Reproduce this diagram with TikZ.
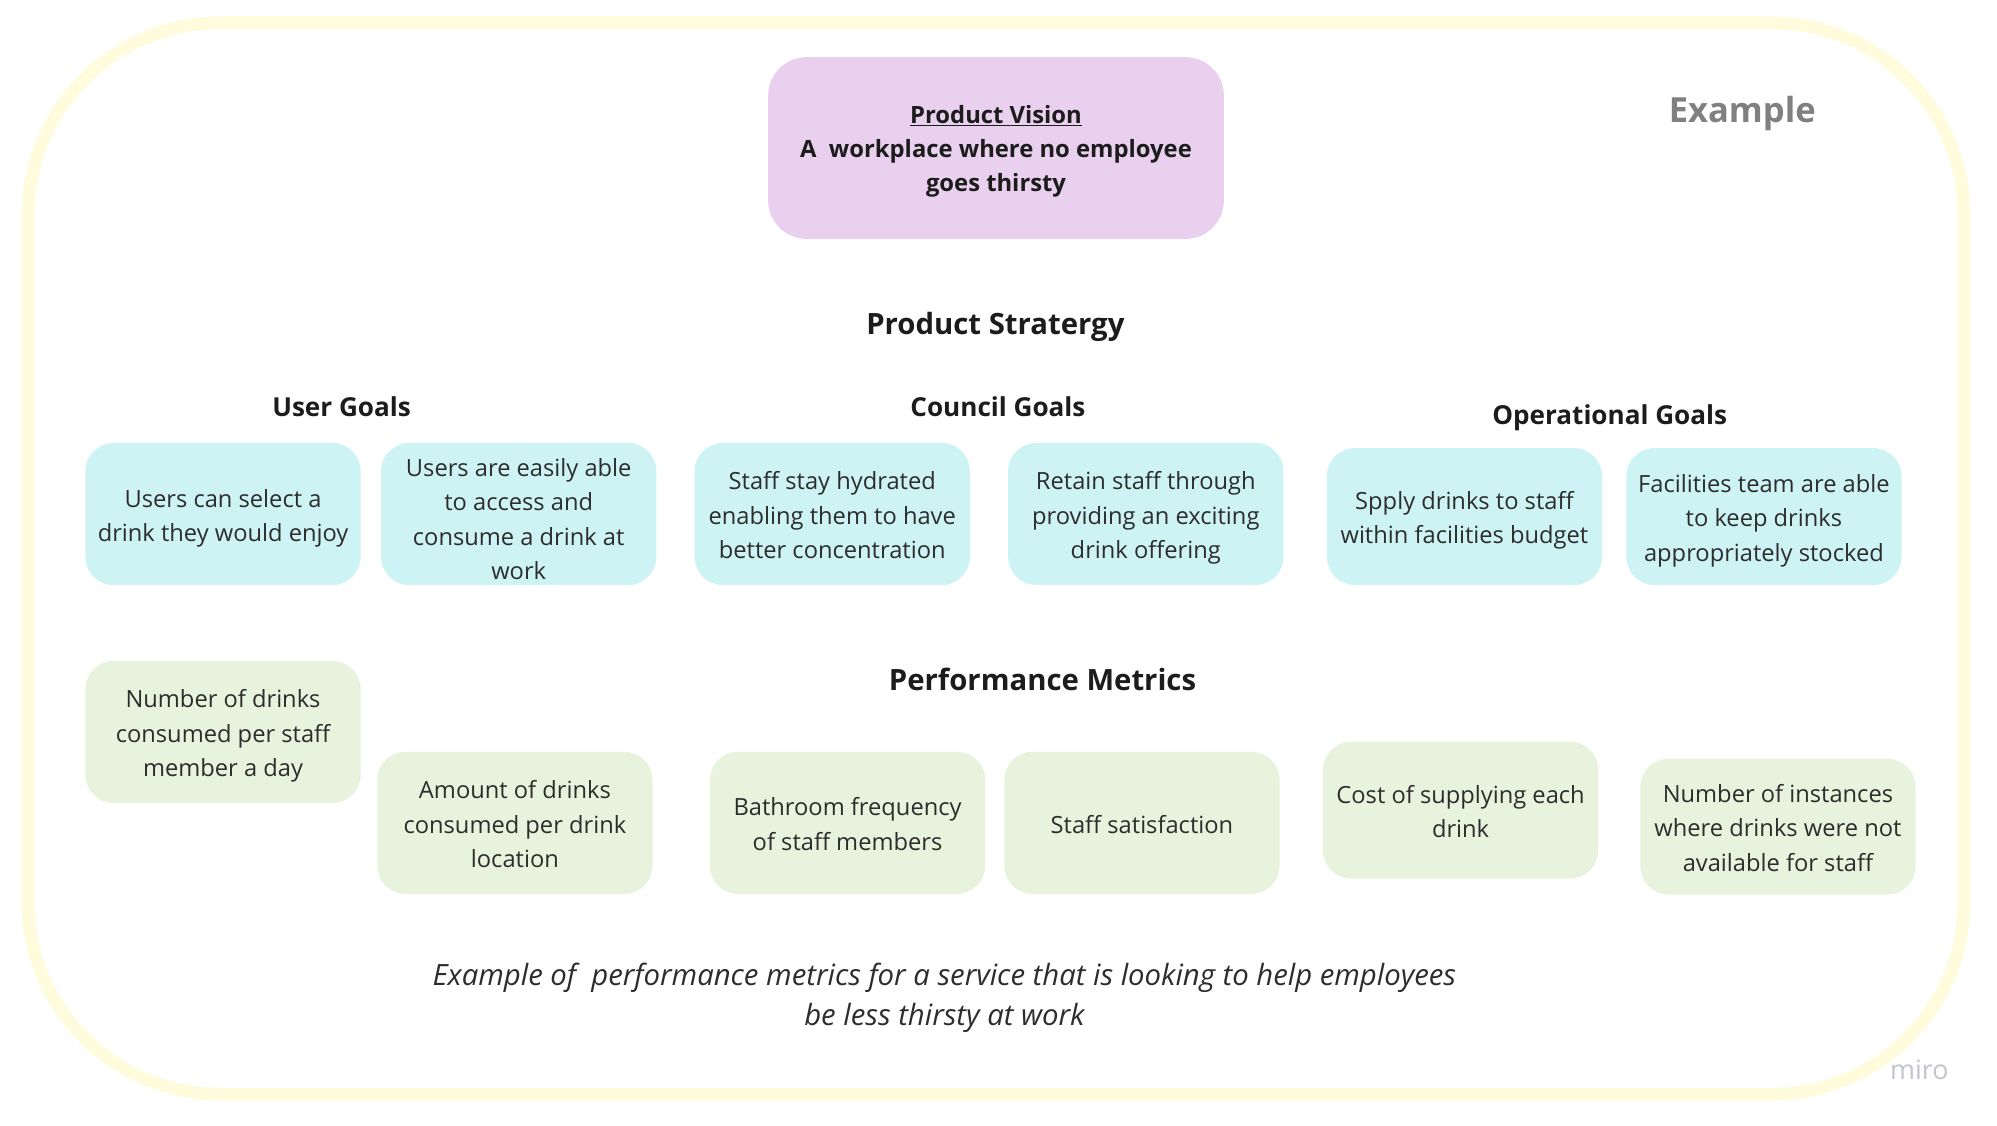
\documentclass[tikz,border=0pt]{standalone}
\usepackage{fontspec}
\setmainfont{Open Sans}
\definecolor{framey}{RGB}{254,252,220}
\definecolor{visionp}{RGB}{233,208,238}
\definecolor{goalc}{RGB}{206,243,244}
\definecolor{metricg}{RGB}{231,243,220}
\definecolor{txt}{RGB}{45,45,45}
\definecolor{head}{RGB}{28,28,28}
\definecolor{examplegray}{RGB}{128,128,128}
\definecolor{mirogray}{RGB}{196,196,204}
\newcommand\cardtop{\rule{0pt}{20.3pt}}
\newcommand\cardtoptall{\rule{0pt}{26.3pt}}
\tikzset{
  card/.style={draw=none, rounded corners=22pt, minimum width=215pt,
    align=center, text=txt, inner sep=0pt, font=\fontsize{18.5}{26.8}\selectfont,
    execute at end node={\rule[-4.4pt]{0pt}{0pt}}},
  goalcard/.style={card, fill=goalc},
  metriccard/.style={card, fill=metricg},
  heading/.style={anchor=base, text=head, font=\fontsize{20.4}{27}\bfseries\selectfont, inner sep=0pt},
  bigheading/.style={anchor=base, text=head, font=\fontsize{22.9}{30}\bfseries\selectfont, inner sep=0pt},
}
\begin{document}
\begin{tikzpicture}[x=0.9956pt,y=-0.9927pt]
\useasboundingbox[fill=white] (0pt,0pt) rectangle (1560pt,-879.6pt);
\draw[framey, line width=10pt, rounded corners=150pt] (22,18) rectangle (1541,861);

\node[fill=visionp, rounded corners=30pt, minimum width=356pt, minimum height=142pt, inner sep=0pt]
  (vision) at (781.5,116.5) {};
\node[align=center, text=head, inner sep=0pt, font=\fontsize{18.6}{26.8}\bfseries\selectfont]
  (visiontext) at ([yshift=-2.5pt]vision.center)
  {\underline{Product Vision}\\A\ \ workplace where no employee\\goes thirsty};

\node[text=examplegray, font=\fontsize{27}{32}\bfseries\selectfont, inner sep=0pt] (example) at (1367,89) {Example};

\node[bigheading] (strategy) at (781,263.1) {Product Stratergy};
\node[heading] (usergoals) at (268,327.8) {User Goals};
\node[heading] (councilgoals) at (783,327.8) {Council Goals};
\node[heading] (opgoals) at (1263,333.8) {Operational Goals};

\node[goalcard, minimum height=111pt] (g1) at (175,404.5) {\cardtop Users can select a\\drink they would enjoy};
\node[goalcard, minimum height=111pt] (g2) at (407,404.5) {\cardtoptall Users are easily able\\to access and\\consume a drink at\\work};
\node[goalcard, minimum height=111pt] (g3) at (653,404.5) {\cardtop Staff stay hydrated\\enabling them to have\\better concentration};
\node[goalcard, minimum height=111pt] (g4) at (899,404.5) {\cardtop Retain staff through\\providing an exciting\\drink offering};
\node[goalcard, minimum height=107pt] (g5) at (1149,406.5) {\cardtop Spply drinks to staff\\within facilities budget};
\node[goalcard, minimum height=107pt] (g6) at (1384,406.5) {\cardtop Facilities team are able\\to keep drinks\\appropriately stocked};

\node[bigheading] (metrics) at (818,543.5) {Performance Metrics};

\node[metriccard, minimum height=111pt] (m1) at (175,576) {\cardtop Number of drinks\\consumed per staff\\member a day};
\node[metriccard, minimum height=111pt] (m2) at (404,647.5) {\cardtop Amount of drinks\\consumed per drink\\location};
\node[metriccard, minimum height=111pt] (m3) at (665,647.5) {\cardtop Bathroom frequency\\of staff members};
\node[metriccard, minimum height=111pt] (m4) at (896,647.5) {\cardtop Staff satisfaction};
\node[metriccard, minimum height=107pt] (m5) at (1146,637.5) {\cardtop Cost of supplying each\\drink};
\node[metriccard, minimum height=106pt] (m6) at (1395,650.5) {\cardtop Number of instances\\where drinks were not\\available for staff};

\node[text=txt, align=center, inner sep=0pt, font=\fontsize{22.9}{31.2}\itshape\selectfont] (caption) at (741,784.9)
  {Example of\ \ performance metrics for a service that is looking to help employees\\be less thirsty at work};

\node[text=mirogray, font=\fontsize{21}{25}\selectfont, inner sep=0pt] (miro) at (1506,842) {miro};
\end{tikzpicture}
\end{document}
